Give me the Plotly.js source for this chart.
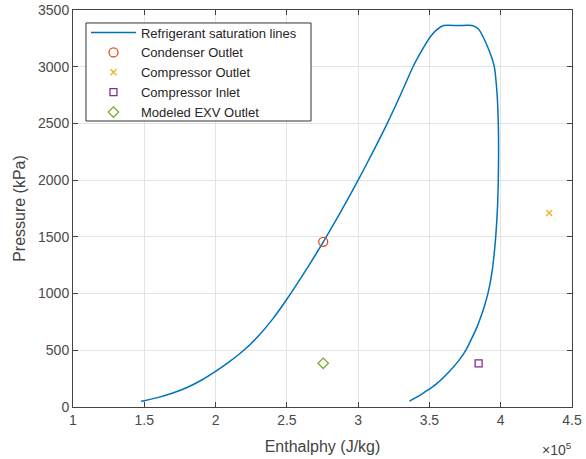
<!DOCTYPE html>
<html>
<head>
<meta charset="utf-8">
<script src="https://cdn.plot.ly/plotly-3.0.1.min.js"></script>
<style>html,body{margin:0;padding:0;background:#fff;}#chart{width:586px;height:459px;}</style>
</head>
<body>
<div id="chart"></div>
<script>
// Saturation dome (J/kg, kPa)
const satEnthalpy = [1.477e5,1.5e5,1.6e5,1.7e5,1.8e5,1.9e5,2.0e5,2.1e5,2.2e5,2.3e5,2.4e5,2.5e5,2.6e5,2.7e5,2.8e5,2.9e5,3.0e5,3.1e5,3.2e5,3.3e5,3.385e5,3.45e5,3.505e5,3.55e5,3.6e5,
  3.7e5,3.80e5,3.845e5,3.877e5,3.91e5,3.935e5,3.955e5,3.975e5,3.983e5,3.985e5,3.983e5,3.977e5,3.965e5,3.958e5,3.95e5,3.94e5,3.927e5,3.91e5,3.888e5,3.862e5,3.832e5,3.795e5,3.755e5,3.70e5,3.63e5,3.545e5,3.49e5,3.43e5,3.36e5];
const satPressure = [50,56,85,123,172,236,314,402,502,625,775,950,1140,1340,1550,1770,2000,2240,2490,2760,3000,3150,3262,3325,3363,
  3363,3363,3330,3262,3170,3087,3000,2750,2500,2250,2000,1750,1500,1400,1300,1200,1100,1000,900,800,700,600,500,400,300,200,150,100,52];

const condOutH = [2.755e5], condOutP = [1456];
const compOutH = [4.34e5], compOutP = [1710];
const compInH = [3.845e5], compInP = [385];
const exvOutH = [2.755e5], exvOutP = [385];

const xTickVals = [1e5,1.5e5,2e5,2.5e5,3e5,3.5e5,4e5,4.5e5];
const xTickText = ['1','1.5','2','2.5','3','3.5','4','4.5'];
const yTickVals = [0,500,1000,1500,2000,2500,3000,3500];

const FONT = 'Liberation Sans, Arial, Helvetica, sans-serif';
const traces = [
  {x: satEnthalpy, y: satPressure, mode: 'lines', name: 'Refrigerant saturation lines',
   line: {color: '#0072BD', width: 1.5, shape: 'spline', smoothing: 0.7}},
  {x: condOutH, y: condOutP, mode: 'markers', name: 'Condenser Outlet',
   marker: {symbol: 'circle-open', size: 9, color: '#D95319', line: {width: 1.3}}},
  {x: compOutH, y: compOutP, mode: 'markers', name: 'Compressor Outlet',
   marker: {symbol: 'x-thin-open', size: 6, color: '#EDB120', line: {width: 1.3, color: '#EDB120'}}},
  {x: compInH, y: compInP, mode: 'markers', name: 'Compressor Inlet',
   marker: {symbol: 'square-open', size: 7, color: '#7E2F8E', line: {width: 1.3}}},
  {x: exvOutH, y: exvOutP, mode: 'markers', name: 'Modeled EXV Outlet',
   marker: {symbol: 'diamond-open', size: 8, color: '#77AC30', line: {width: 1.3}}}
];

const axisCommon = {
  showline: true, linecolor: '#444', linewidth: 1, mirror: 'ticks',
  ticks: 'inside', ticklen: 5, tickcolor: '#444',
  showgrid: true, gridcolor: '#e3e3e3', gridwidth: 1, zeroline: false,
  tickfont: {family: FONT, size: 14, color: '#4a4a4a'}
};

const layout = {
  width: 586, height: 459,
  margin: {l: 73, r: 14, t: 10, b: 52},
  paper_bgcolor: '#fff', plot_bgcolor: '#fff',
  font: {family: FONT, color: '#444'},
  showlegend: true,
  legend: {x: 0.026, y: 0.981, xanchor: 'left', yanchor: 'top',
    borderwidth: 0, bgcolor: 'rgba(0,0,0,0)',
    font: {family: FONT, size: 13, color: '#262626'}, itemwidth: 45, tracegroupgap: 0},
  shapes: [{type: 'rect', xref: 'paper', yref: 'paper', layer: 'above',
    x0: 0.026, x1: 0.477, y0: 0.7204, y1: 0.9673,
    line: {color: '#333', width: 1}, fillcolor: '#fff'}],
  xaxis: Object.assign({}, axisCommon, {
    range: [1e5, 4.5e5], tickvals: xTickVals, ticktext: xTickText,
    title: {text: 'Enthalphy (J/kg)', font: {family: FONT, size: 16, color: '#444'}, standoff: 14}
  }),
  yaxis: Object.assign({}, axisCommon, {
    range: [0, 3500], tickvals: yTickVals,
    title: {text: 'Pressure (kPa)', font: {family: FONT, size: 16, color: '#444'}, standoff: 8}
  }),
  annotations: [{
    xref: 'paper', yref: 'paper', x: 1.004, y: -0.077, xanchor: 'right', yanchor: 'top',
    text: '×10<sup>5</sup>', showarrow: false, font: {family: FONT, size: 14, color: '#444'}
  }]
};

Plotly.newPlot('chart', traces, layout, {displayModeBar: false, staticPlot: true});
</script>
</body>
</html>
